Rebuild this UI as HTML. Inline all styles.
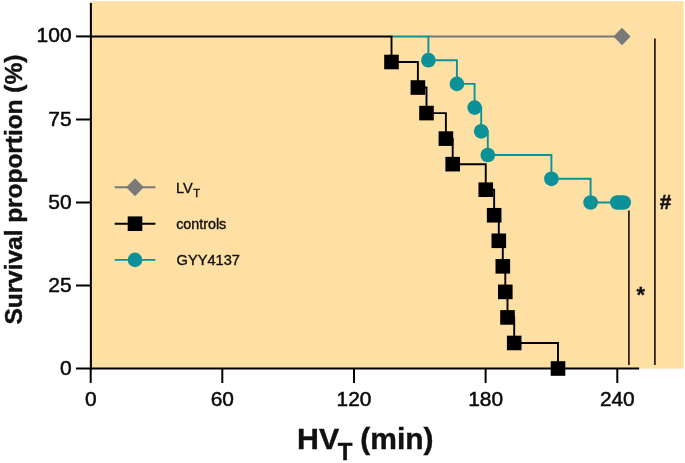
<!DOCTYPE html>
<html><head><meta charset="utf-8"><title>Survival proportion</title>
<style>
html,body{margin:0;padding:0;background:#fff;}
svg{display:block;font-family:"Liberation Sans",sans-serif;fill:#111;}
.tk{stroke:#0a0a0a;stroke-width:0.5px;fill:#0a0a0a;}
.lg{stroke:#111;stroke-width:0.4px;}
.bt{stroke:#111;stroke-width:0.4px;}
</style></head>
<body>
<svg width="685" height="463" viewBox="0 0 685 463">
<rect x="89.5" y="1.2" width="594.3" height="367.40000000000003" fill="#fee0a5"/>
<path d="M428.4 36.45H621.7" stroke="#797979" stroke-width="1.9" fill="none"/>
<path d="M391.5 36.45H428.4V60.2H456.9V83.9H474.6V107.6H481.2V131.3H487.8V155.0H551.4V178.8H590.6V202.5H623.6" stroke="#0b9197" stroke-width="1.9" fill="none"/>
<path d="M90.7 36.45H391.5V62.0H417.9V87.5H426.5V113.1H445.9V138.6H452.7V164.2H485.75V189.7H494.15V215.2H498.8V240.8H502.8V266.3H505.3V291.9H507.5V317.4H514.2V343.0H558.0V368.5" stroke="#000" stroke-width="1.9" fill="none"/>
<circle cx="428.4" cy="60.2" r="7.35" fill="#0b9197"/>
<circle cx="456.9" cy="83.9" r="7.35" fill="#0b9197"/>
<circle cx="474.6" cy="107.6" r="7.35" fill="#0b9197"/>
<circle cx="481.2" cy="131.3" r="7.35" fill="#0b9197"/>
<circle cx="487.8" cy="155.0" r="7.35" fill="#0b9197"/>
<circle cx="551.4" cy="178.8" r="7.35" fill="#0b9197"/>
<circle cx="590.6" cy="202.5" r="7.35" fill="#0b9197"/>
<rect x="610" y="195.2" width="21" height="14.6" rx="7.3" fill="#0b9197"/>
<rect x="384.20" y="54.69" width="14.6" height="14.6" fill="#000"/>
<rect x="410.60" y="80.23" width="14.6" height="14.6" fill="#000"/>
<rect x="419.20" y="105.78" width="14.6" height="14.6" fill="#000"/>
<rect x="438.60" y="131.32" width="14.6" height="14.6" fill="#000"/>
<rect x="445.40" y="156.86" width="14.6" height="14.6" fill="#000"/>
<rect x="478.45" y="182.40" width="14.6" height="14.6" fill="#000"/>
<rect x="486.85" y="207.95" width="14.6" height="14.6" fill="#000"/>
<rect x="491.50" y="233.49" width="14.6" height="14.6" fill="#000"/>
<rect x="495.50" y="259.03" width="14.6" height="14.6" fill="#000"/>
<rect x="498.00" y="284.57" width="14.6" height="14.6" fill="#000"/>
<rect x="500.20" y="310.12" width="14.6" height="14.6" fill="#000"/>
<rect x="506.90" y="335.66" width="14.6" height="14.6" fill="#000"/>
<rect x="550.70" y="361.20" width="14.6" height="14.6" fill="#000"/>
<path d="M613.4 36.45L622.0 27.650000000000002L630.6 36.45L622.0 45.25Z" fill="#797979"/>
<path d="M90.9 3V369.5" stroke="#000" stroke-width="2" fill="none"/>
<path d="M89.9 368.5H639.1" stroke="#000" stroke-width="2" fill="none"/>
<path d="M90.7 368.5V383" stroke="#000" stroke-width="2" fill="none"/>
<text transform="translate(90.7 405.6) scale(1 1)" text-anchor="middle" font-size="20.9" class="tk">0</text>
<path d="M222.3 368.5V383" stroke="#000" stroke-width="2" fill="none"/>
<text transform="translate(222.3 405.6) scale(1 1)" text-anchor="middle" font-size="20.9" class="tk">60</text>
<path d="M354.0 368.5V383" stroke="#000" stroke-width="2" fill="none"/>
<text transform="translate(354.0 405.6) scale(1 1)" text-anchor="middle" font-size="20.9" class="tk">120</text>
<path d="M485.6 368.5V383" stroke="#000" stroke-width="2" fill="none"/>
<text transform="translate(485.6 405.6) scale(1 1)" text-anchor="middle" font-size="20.9" class="tk">180</text>
<path d="M617.3 368.5V383" stroke="#000" stroke-width="2" fill="none"/>
<text transform="translate(617.3 405.6) scale(1 1)" text-anchor="middle" font-size="20.9" class="tk">240</text>
<path d="M76 368.5H90.9" stroke="#000" stroke-width="2" fill="none"/>
<text transform="translate(71.6 374.7) scale(1 1)" text-anchor="end" font-size="21" class="tk">0</text>
<path d="M76 285.5H90.9" stroke="#000" stroke-width="2" fill="none"/>
<text transform="translate(71.6 291.7) scale(1 1)" text-anchor="end" font-size="21" class="tk">25</text>
<path d="M76 202.5H90.9" stroke="#000" stroke-width="2" fill="none"/>
<text transform="translate(71.6 208.7) scale(1 1)" text-anchor="end" font-size="21" class="tk">50</text>
<path d="M76 119.5H90.9" stroke="#000" stroke-width="2" fill="none"/>
<text transform="translate(71.6 125.7) scale(1 1)" text-anchor="end" font-size="21" class="tk">75</text>
<path d="M76 36.4H90.9" stroke="#000" stroke-width="2" fill="none"/>
<text transform="translate(71.6 41.8) scale(1 1)" text-anchor="end" font-size="21" class="tk">100</text>
<path d="M654.9 38.5V365.1" stroke="#231a14" stroke-width="1.7" fill="none"/>
<path d="M628.9 210.5V365.1" stroke="#231a14" stroke-width="1.7" fill="none"/>
<text x="659.7" y="208.6" font-size="20.6" font-weight="bold" stroke="#111" stroke-width="0.55">#</text>
<text x="640.9" y="302.4" text-anchor="middle" font-size="22" font-weight="bold" stroke="#111" stroke-width="0.3">*</text>
<path d="M114.7 187.2H155.4" stroke="#797979" stroke-width="1.9" fill="none"/>
<path d="M114.7 223.7H155.4" stroke="#000" stroke-width="1.9" fill="none"/>
<path d="M114.7 259.9H155.4" stroke="#0b9197" stroke-width="1.9" fill="none"/>
<path d="M126.2 187.2L135 178.2L143.8 187.2L135 196.2Z" fill="#797979"/>
<rect x="127.7" y="216.4" width="14.6" height="14.6" fill="#000"/>
<circle cx="135" cy="259.9" r="7.3" fill="#0b9197"/>
<text transform="translate(176.1 192.8) scale(0.95 1)" font-size="15.3" class="lg">LV</text>
<text x="193.3" y="197.2" font-size="11.2" class="lg">T</text>
<text x="176.2" y="228.6" font-size="14.3" class="lg">controls</text>
<text x="176.6" y="264.5" font-size="14.6" class="lg">GYY4137</text>
<text x="297" y="449.1" font-size="30.3" font-weight="bold" class="bt">HV</text>
<text x="337.8" y="460.3" font-size="24" font-weight="bold" class="bt">T</text>
<text x="360.3" y="449.1" font-size="30" font-weight="bold" class="bt">(min)</text>
<text transform="translate(21.9 324.6) rotate(-90)" font-size="24.6" font-weight="bold" class="bt" textLength="270" lengthAdjust="spacing">Survival proportion (%)</text>
</svg>
</body></html>
